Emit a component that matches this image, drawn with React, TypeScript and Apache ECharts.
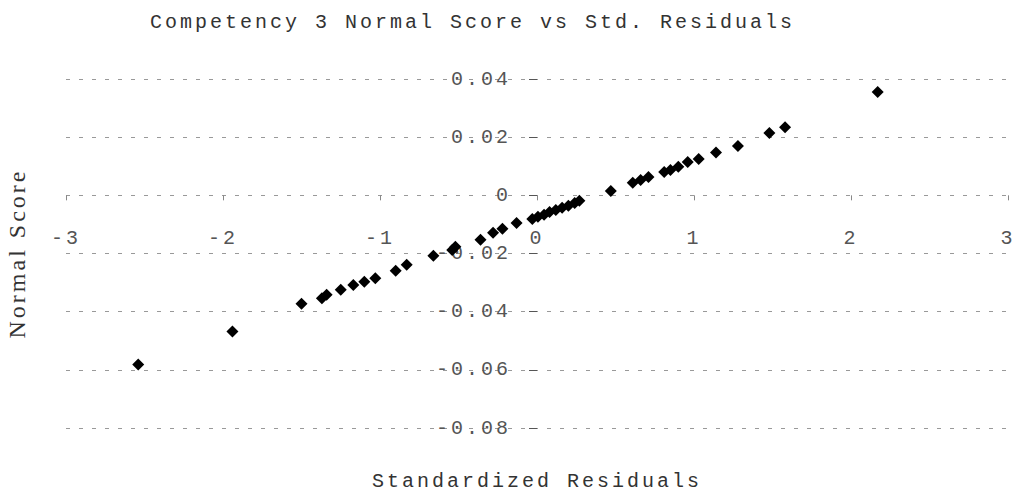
import React, { useEffect, useRef } from "react";
import * as echarts from "echarts";

const titleText = "Competency 3 Normal Score vs Std. Residuals";
const xName = "Standardized Residuals";
const yName = "Normal Score";

const stdResiduals = [
  -2.54, -1.94, -1.5, -1.37, -1.34, -1.25, -1.17, -1.1, -1.03, -0.9, -0.83,
  -0.66, -0.54, -0.52, -0.36, -0.28, -0.22, -0.13, -0.03, 0.006, 0.045, 0.08,
  0.12, 0.16, 0.2, 0.24, 0.27, 0.47, 0.61, 0.66, 0.71, 0.81, 0.85, 0.9, 0.96,
  1.03, 1.14, 1.28, 1.48, 1.58, 2.17,
];
const normalScores = [
  -0.0582, -0.0468, -0.0373, -0.0354, -0.0342, -0.0325, -0.0308, -0.0297,
  -0.0285, -0.0259, -0.0239, -0.0208, -0.0188, -0.0177, -0.0153, -0.0129,
  -0.0115, -0.0095, -0.0081, -0.0074, -0.0067, -0.0057, -0.005, -0.0043,
  -0.0036, -0.0026, -0.0019, 0.0015, 0.0043, 0.0053, 0.0063, 0.008, 0.0087,
  0.0098, 0.0115, 0.0125, 0.0147, 0.017, 0.0214, 0.0234, 0.0355,
];

const xTicks = { min: -3, max: 3, interval: 1 };
const yTicks = { min: -0.08, max: 0.04, interval: 0.02 };

const MONO = "'Liberation Mono', 'Courier New', monospace";

const W = 1016;
const H = 495;
const G = { left: 66, right: 8, top: 79, bottom: 67 };

export default function App() {
  const ref = useRef<HTMLDivElement>(null);
  useEffect(() => {
    if (!ref.current) return;
    const chart = echarts.init(ref.current, null, { renderer: "svg" });
    const data = stdResiduals.map((x, i) => [x, normalScores[i]]);
    // axes cross at (0, 0): shift them from the grid edges to the zero lines
    const gw = W - G.left - G.right;
    const gh = H - G.top - G.bottom;
    const xZeroOffset =
      (gw * (0 - xTicks.min)) / (xTicks.max - xTicks.min);
    const yZeroOffset =
      (gh * (0 - yTicks.min)) / (yTicks.max - yTicks.min);
    chart.setOption({
      animation: false,
      backgroundColor: "#ffffff",
      title: {
        text: titleText,
        left: 145,
        top: 7,
        textStyle: {
          fontFamily: MONO,
          fontSize: 20,
          fontWeight: "normal",
          color: "#333",
        },
      },
      grid: {
        ...G,
        containLabel: false,
        outerBoundsMode: "none",
      },
      xAxis: {
        type: "value",
        min: xTicks.min,
        max: xTicks.max,
        interval: xTicks.interval,
        offset: -yZeroOffset,
        name: xName,
        nameLocation: "middle",
        nameGap: 276,
        nameTextStyle: { fontFamily: MONO, fontSize: 20, color: "#333" },
        axisLine: { onZero: false, lineStyle: { color: "rgba(0,0,0,0)" } },
        axisTick: { show: true, length: 5, lineStyle: { color: "#888" } },
        axisLabel: {
          margin: 33,
          fontFamily: MONO,
          fontSize: 20,
          color: "#555",
        },
        splitLine: { show: false },
      },
      yAxis: {
        type: "value",
        min: yTicks.min,
        max: yTicks.max,
        interval: yTicks.interval,
        offset: -xZeroOffset,
        name: yName,
        nameLocation: "middle",
        nameGap: 508,
        nameRotate: 90,
        nameTextStyle: {
          fontFamily: "'Liberation Serif', serif",
          fontSize: 24,
          color: "#333",
        },
        axisLine: { onZero: false, lineStyle: { color: "rgba(0,0,0,0)" } },
        axisTick: { show: true, length: 8, lineStyle: { color: "#555" } },
        axisLabel: {
          margin: 26,
          fontFamily: MONO,
          fontSize: 20,
          color: "#555",
          formatter: (v: number) => (Math.abs(v) < 1e-9 ? "0" : v.toFixed(2)),
        },
        splitLine: {
          show: true,
          lineStyle: { color: "#999", width: 1, type: [4, 9] },
        },
      },
      series: [
        {
          type: "scatter",
          symbol: "diamond",
          symbolSize: 12,
          itemStyle: { color: "#000", opacity: 1 },
          data,
        },
      ],
    });
    return () => chart.dispose();
  }, []);
  return (
    <div
      ref={ref}
      style={{
        position: "fixed",
        left: 0,
        top: 0,
        width: W,
        height: H,
        background: "#fff",
        letterSpacing: "3px",
      }}
    />
  );
}
